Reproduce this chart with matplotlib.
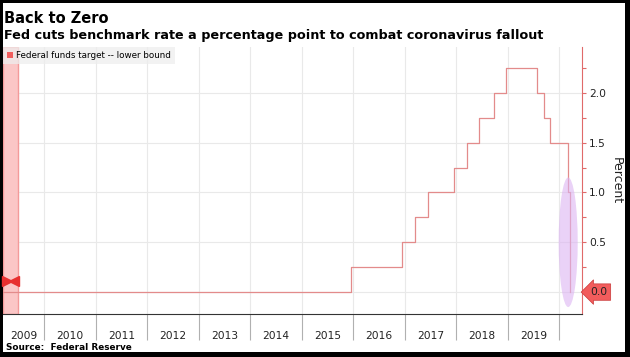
import datetime as dt

import matplotlib
matplotlib.use("Agg")
import matplotlib.dates as mdates
import matplotlib.pyplot as plt
from matplotlib.patches import Ellipse, Patch, Rectangle
from matplotlib.ticker import FixedLocator, FixedFormatter, MultipleLocator, FuncFormatter

# Fed funds target, lower bound (change dates)
change_dates = ["2008-12-16", "2015-12-17", "2016-12-15", "2017-03-16", "2017-06-15",
                "2017-12-14", "2018-03-22", "2018-06-14", "2018-09-27", "2018-12-20",
                "2019-08-01", "2019-09-19", "2019-10-31", "2020-03-04", "2020-03-16",
                "2020-03-17"]
rates = [0.0, 0.25, 0.5, 0.75, 1.0, 1.25, 1.5, 1.75, 2.0, 2.25,
         2.0, 1.75, 1.5, 1.0, 0.0, 0.0]
recession_end = "2009-06-30"
x_start, x_end = "2009-03-13", "2020-06-12"
years = list(range(2009, 2020))

W, H = 630, 357
def fx(px): return px / W
def fy(py): return 1 - py / H

dates = [dt.datetime.fromisoformat(d) for d in change_dates]
x0 = dt.datetime.fromisoformat(x_start)
x1 = dt.datetime.fromisoformat(x_end)

red = "#e06a6a"
fig = plt.figure(figsize=(W / 100, H / 100), dpi=100, facecolor="black")
fig.patches.append(Rectangle((fx(3), fy(352)), fx(622), 349 / H, transform=fig.transFigure,
                             facecolor="white", edgecolor="none", zorder=-10))

ax = fig.add_axes([fx(3), fy(314), fx(579), 267 / H])
ax.set_facecolor("none")

ax.step(dates, rates, where="post", color="#e38b8b", lw=0.9, zorder=3)

# recession band
ax.axvspan(x0, dt.datetime.fromisoformat(recession_end), facecolor="#fbc6c6",
           edgecolor="#f49a9a", lw=1.0, zorder=1)
rec_mid = mdates.date2num(x0) + (mdates.date2num(dt.datetime.fromisoformat(recession_end)) - mdates.date2num(x0)) / 2
ax.plot([rec_mid - 24], [0.11], marker=">", color="#e83030", ms=7, zorder=4, clip_on=False)
ax.plot([rec_mid + 24], [0.11], marker="<", color="#e83030", ms=7, zorder=4, clip_on=False)

# highlight of the March 2020 cuts
cut_mid = mdates.date2num(dates[-3]) + 2
ax.add_patch(Ellipse((cut_mid, 0.5), width=135, height=1.3, facecolor="#dcb4f2",
                     edgecolor="none", alpha=0.6, zorder=4))

ax.set_xlim(x0, x1)
ax.set_ylim(-0.22, 2.46)

# x axis: separators at year starts, labels centred in visible part of each year
ax.xaxis.set_major_locator(mdates.YearLocator())
lo, hi = mdates.date2num(x0), mdates.date2num(x1)
mids = []
for y in years:
    a = max(mdates.date2num(dt.datetime(y, 1, 1)), lo)
    b = min(mdates.date2num(dt.datetime(y + 1, 1, 1)), hi)
    mids.append((a + b) / 2)
ax.xaxis.set_minor_locator(FixedLocator(mids))
ax.xaxis.set_minor_formatter(FixedFormatter([str(y) for y in years]))
ax.tick_params(axis="x", which="major", length=19, color="#b0b0b0", width=0.8, labelbottom=False)
ax.tick_params(axis="x", which="minor", length=0, pad=12, labelsize=7.7, labelcolor="#222222")

# y axis on the right
ax.yaxis.tick_right()
ax.yaxis.set_major_locator(MultipleLocator(0.5))
ax.yaxis.set_minor_locator(MultipleLocator(0.25))
ax.yaxis.set_major_formatter(FuncFormatter(lambda v, p: "" if abs(v) < 1e-9 else f"{v:.1f}"))
ax.tick_params(axis="y", which="both", color=red, length=3, width=0.8, pad=2,
               labelsize=7.7, labelcolor="#222222", left=False)
ax.yaxis.set_label_position("right")
ax.set_ylabel("Percent", rotation=270, fontsize=9, labelpad=12, color="#222222")

ax.grid(True, which="major", color="#e9e9e9", lw=0.8, zorder=0)
ax.set_axisbelow(True)
for s in ["left", "top"]:
    ax.spines[s].set_visible(False)
ax.spines["bottom"].set_color("#333333")
ax.spines["right"].set_color(red)

# last value tag
ax.annotate(f"{rates[-1]:.1f}", xy=(1, rates[-1]), xycoords=("axes fraction", "data"),
            xytext=(6, 0), textcoords="offset points", ha="left", va="center",
            fontsize=7.7, color="#222222",
            bbox=dict(boxstyle="larrow,pad=0.3", fc="#f25c5c", ec="#c83a3a", lw=0.5))

leg = ax.legend(handles=[Patch(facecolor="#f25c5c", edgecolor="none")],
                labels=["Federal funds target -- lower bound"], loc="upper left",
                bbox_to_anchor=(0, 1), borderaxespad=0.0, fontsize=6.3, frameon=True,
                handlelength=0.7, handleheight=0.7, handletextpad=0.3, borderpad=0.45)
leg.get_frame().set_facecolor("#eeeeee")
leg.get_frame().set_edgecolor("none")
leg.get_frame().set_alpha(0.75)
leg.get_frame().set_boxstyle("square", pad=0)

fig.text(fx(4), fy(23), "Back to Zero", fontsize=10.5, fontweight="bold", va="baseline")
fig.text(fx(4), fy(39), "Fed cuts benchmark rate a percentage point to combat coronavirus fallout",
         fontsize=9.2, fontweight="bold", va="baseline")
fig.text(fx(6), fy(350), "Source:  Federal Reserve", fontsize=6.4, fontweight="bold", va="baseline")

fig.savefig("out.png", dpi=100, facecolor="black")
